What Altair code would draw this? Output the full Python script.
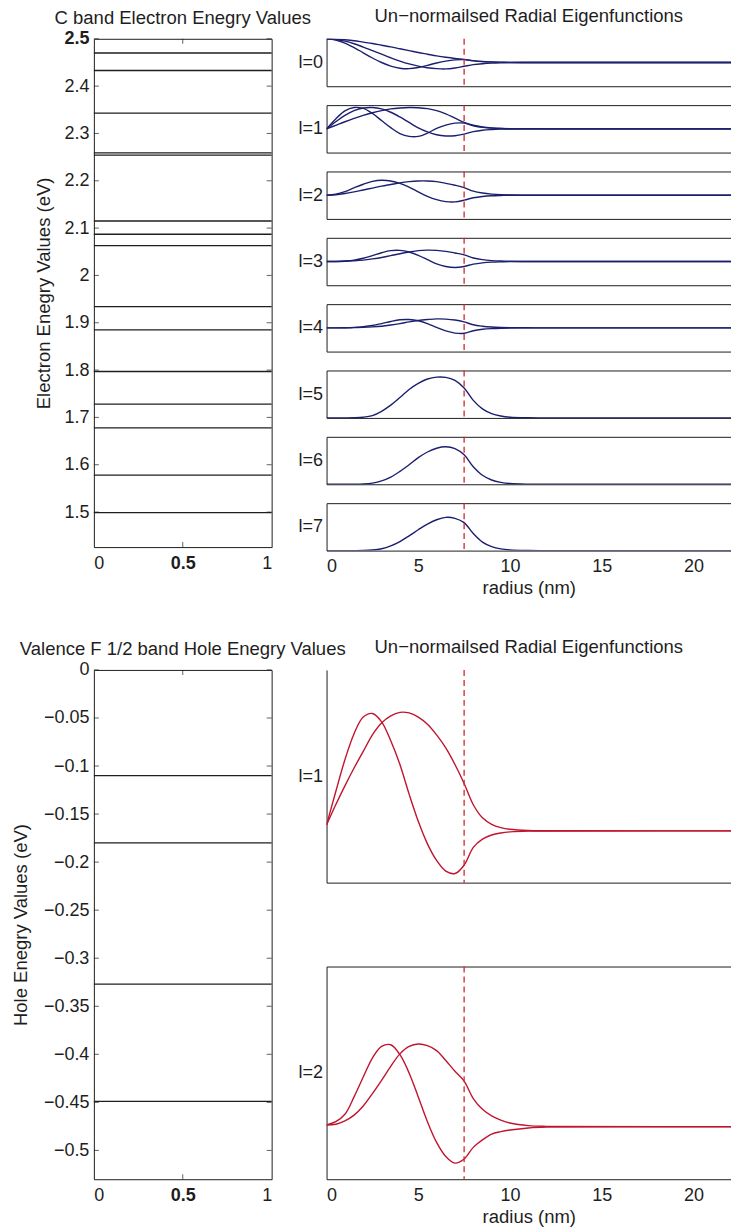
import altair as alt
import pandas as pd

FONT = "Liberation Sans"
INK = "#1e1e1e"
NAVY = "#1c1f6e"
CRIMSON = "#c0152f"
DASH_RED = "#d0282e"

# ---------------- energy levels (eV) ----------------
electron_levels = [2.470, 2.433, 2.343, 2.259, 2.254, 2.115, 2.087, 2.063,
                   1.934, 1.885, 1.797, 1.728, 1.678, 1.578, 1.499]
electron_axis_ticks = [1.5, 1.6, 1.7, 1.8, 1.9, 2.0, 2.1, 2.2, 2.3, 2.4, 2.5]
electron_energy_domain = [1.426, 2.5]

hole_levels = [-0.110, -0.180, -0.327, -0.449]
hole_axis_ticks = [0, -0.05, -0.1, -0.15, -0.2, -0.25, -0.3, -0.35, -0.4, -0.45, -0.5]
hole_energy_domain = [-0.53, 0]

level_x_ticks = [0, 0.5, 1]
level_x_domain = [0, 1]

# ---------------- radial eigenfunctions ----------------
radius_ticks = [0, 5, 10, 15, 20]
radius_domain = [0, 22.05]
well_radius = [7.5]

r_nm = [0, 0.5, 1, 1.5, 2, 2.5, 3, 3.5, 4, 4.5, 5, 5.5, 6, 6.5, 7, 7.5,
        8, 8.5, 9, 9.5, 10, 11, 12, 25]

# conduction band, l = 0 .. 7
e_l0_n1 = [1.0, 0.99, 0.96, 0.92, 0.86, 0.80, 0.73, 0.66, 0.58, 0.50, 0.42, 0.35,
           0.28, 0.22, 0.17, 0.13, 0.08, 0.045, 0.025, 0.012, 0.006, 0.001, 0, 0]
e_l0_n2 = [1.0, 0.97, 0.90, 0.79, 0.65, 0.50, 0.35, 0.20, 0.06, -0.06, -0.15, -0.22,
           -0.26, -0.27, -0.23, -0.16, -0.09, -0.05, -0.025, -0.012, -0.005, -0.001, 0, 0]
e_l0_n3 = [1.0, 0.95, 0.82, 0.63, 0.41, 0.19, 0.0, -0.15, -0.24, -0.26, -0.21, -0.12,
           -0.02, 0.06, 0.11, 0.12, 0.07, 0.035, 0.015, 0.006, 0.002, 0, 0, 0]

e_l1_n1 = [0, 0.15, 0.30, 0.44, 0.57, 0.68, 0.77, 0.84, 0.88, 0.90, 0.89, 0.85,
           0.77, 0.63, 0.45, 0.27, 0.15, 0.08, 0.04, 0.02, 0.01, 0.002, 0, 0]
e_l1_n2 = [0, 0.30, 0.57, 0.77, 0.88, 0.90, 0.84, 0.70, 0.50, 0.27, 0.04, -0.13,
           -0.25, -0.30, -0.29, -0.22, -0.12, -0.06, -0.03, -0.013, -0.005, -0.001, 0, 0]
e_l1_n3 = [0, 0.42, 0.76, 0.90, 0.86, 0.65, 0.35, 0.05, -0.20, -0.32, -0.32, -0.18,
           0.02, 0.16, 0.24, 0.24, 0.13, 0.06, 0.03, 0.012, 0.005, 0.001, 0, 0]

e_l2_n1 = [0, 0.02, 0.07, 0.14, 0.22, 0.30, 0.38, 0.45, 0.52, 0.57, 0.60, 0.60,
           0.57, 0.50, 0.42, 0.32, 0.17, 0.09, 0.045, 0.02, 0.01, 0.002, 0, 0]
e_l2_n2 = [0, 0.04, 0.15, 0.31, 0.46, 0.58, 0.63, 0.60, 0.50, 0.34, 0.14, -0.05,
           -0.19, -0.27, -0.28, -0.21, -0.11, -0.055, -0.025, -0.012, -0.005, -0.001, 0, 0]

e_l3_n1 = [0, 0.0, 0.01, 0.03, 0.06, 0.11, 0.17, 0.25, 0.33, 0.40, 0.46, 0.48,
           0.47, 0.43, 0.36, 0.28, 0.15, 0.08, 0.04, 0.02, 0.01, 0.002, 0, 0]
e_l3_n2 = [0, 0.0, 0.02, 0.06, 0.14, 0.25, 0.37, 0.46, 0.47, 0.40, 0.26, 0.08,
           -0.10, -0.21, -0.25, -0.21, -0.11, -0.055, -0.025, -0.012, -0.005, -0.001, 0, 0]

e_l4_n1 = [0, 0, 0, 0.01, 0.02, 0.04, 0.07, 0.12, 0.18, 0.25, 0.31, 0.35,
           0.38, 0.37, 0.33, 0.25, 0.13, 0.07, 0.035, 0.017, 0.008, 0.002, 0, 0]
e_l4_n2 = [0, 0, 0.005, 0.02, 0.05, 0.10, 0.18, 0.27, 0.34, 0.35, 0.30, 0.18,
           0.02, -0.13, -0.22, -0.23, -0.12, -0.06, -0.03, -0.014, -0.006, -0.001, 0, 0]

e_l5_n1 = [0, 0, 0, 0.003, 0.015, 0.05, 0.14, 0.27, 0.43, 0.60, 0.73, 0.82,
           0.86, 0.855, 0.79, 0.63, 0.37, 0.19, 0.09, 0.04, 0.015, 0.002, 0, 0]
e_l6_n1 = [0, 0, 0, 0, 0.005, 0.025, 0.07, 0.15, 0.27, 0.41, 0.56, 0.68,
           0.76, 0.79, 0.75, 0.62, 0.37, 0.19, 0.09, 0.04, 0.015, 0.002, 0, 0]
e_l7_n1 = [0, 0, 0, 0, 0.002, 0.012, 0.04, 0.10, 0.19, 0.31, 0.44, 0.56,
           0.65, 0.70, 0.68, 0.59, 0.36, 0.18, 0.085, 0.035, 0.013, 0.002, 0, 0]

# valence band (holes), l = 1, 2
h_l1_n1 = [0.05, 0.22, 0.38, 0.53, 0.67, 0.81, 0.91, 0.97, 1.0, 0.995, 0.96, 0.90,
           0.81, 0.70, 0.56, 0.40, 0.22, 0.11, 0.055, 0.027, 0.013, 0.003, 0.001, 0]
h_l1_n2 = [0.05, 0.33, 0.60, 0.82, 0.96, 0.99, 0.92, 0.76, 0.56, 0.31, 0.08, -0.11,
           -0.25, -0.34, -0.36, -0.29, -0.14, -0.07, -0.035, -0.018, -0.009, -0.002, -0.001, 0]
h_l2_n1 = [0.02, 0.03, 0.07, 0.14, 0.25, 0.40, 0.56, 0.73, 0.88, 0.97, 1.0, 0.98,
           0.92, 0.80, 0.67, 0.55, 0.34, 0.21, 0.13, 0.08, 0.045, 0.013, 0.004, 0]
h_l2_n2 = [0.02, 0.06, 0.15, 0.36, 0.60, 0.83, 0.97, 0.99, 0.87, 0.65, 0.36, 0.06,
           -0.19, -0.36, -0.44, -0.39, -0.25, -0.16, -0.09, -0.06, -0.04, -0.015, -0.005, 0]

electron_panels = [
    ("l=0", {"n1": e_l0_n1, "n2": e_l0_n2, "n3": e_l0_n3}, [-1, 1], False),
    ("l=1", {"n1": e_l1_n1, "n2": e_l1_n2, "n3": e_l1_n3}, [-1, 1], True),
    ("l=2", {"n1": e_l2_n1, "n2": e_l2_n2}, [-1, 1], True),
    ("l=3", {"n1": e_l3_n1, "n2": e_l3_n2}, [-1, 1], True),
    ("l=4", {"n1": e_l4_n1, "n2": e_l4_n2}, [-1, 1], True),
    ("l=5", {"n1": e_l5_n1}, [0, 1], True),
    ("l=6", {"n1": e_l6_n1}, [0, 1], True),
    ("l=7", {"n1": e_l7_n1}, [0, 1], True),
]
hole_panels = [
    ("l=1", {"n1": h_l1_n1, "n2": h_l1_n2}, [-0.437, 1.358], False),
    ("l=2", {"n1": h_l2_n1, "n2": h_l2_n2}, [-0.635, 1.936], True),
]

LEVEL_W = 178
RADIAL_W = 405


def bold_at(v):
    return alt.condition(f"datum.value == {v}", alt.value("bold"), alt.value("normal"))


def level_panel(levels, ticks, domain, ytitle, title, height, title_pad, bold_y=None):
    xscale = alt.Scale(domain=level_x_domain, nice=False, zero=False)
    yscale = alt.Scale(domain=domain, nice=False, zero=False)
    df = pd.DataFrame({"E": levels, "x0": level_x_domain[0], "x1": level_x_domain[1]})
    yaxis_kw = dict(values=ticks, format="~g", title=ytitle, ticks=False, domain=False,
                    labelPadding=5, titlePadding=title_pad)
    if bold_y is not None:
        yaxis_kw["labelFontWeight"] = bold_at(bold_y)
    rules = alt.Chart(df).mark_rule(color=INK, strokeWidth=1.3).encode(
        x=alt.X("x0:Q", scale=xscale,
                axis=alt.Axis(values=level_x_ticks, format="~g", title=None, ticks=False,
                              domain=False, labelPadding=7,
                              labelFontWeight=bold_at(0.5))),
        x2="x1:Q",
        y=alt.Y("E:Q", scale=yscale, axis=alt.Axis(**yaxis_kw)),
    )
    # small inward tick marks on the frame (MATLAB style)
    tdf = pd.DataFrame({"E": ticks, "left": level_x_domain[0], "right": level_x_domain[1]})
    lt = alt.Chart(tdf).mark_tick(orient="horizontal", size=5, thickness=1, color=INK,
                                  xOffset=2.5).encode(
        x=alt.X("left:Q", scale=xscale), y=alt.Y("E:Q", scale=yscale))
    rt = alt.Chart(tdf).mark_tick(orient="horizontal", size=5, thickness=1, color=INK,
                                  xOffset=-2.5).encode(
        x=alt.X("right:Q", scale=xscale), y=alt.Y("E:Q", scale=yscale))
    xdf = pd.DataFrame({"x": level_x_ticks[1:2], "lo": domain[0], "hi": domain[1]})
    bt = alt.Chart(xdf).mark_tick(orient="vertical", size=5, thickness=1, color=INK,
                                  yOffset=-2.5).encode(
        x=alt.X("x:Q", scale=xscale), y=alt.Y("lo:Q", scale=yscale))
    tt = alt.Chart(xdf).mark_tick(orient="vertical", size=5, thickness=1, color=INK,
                                  yOffset=2.5).encode(
        x=alt.X("x:Q", scale=xscale), y=alt.Y("hi:Q", scale=yscale))
    return alt.layer(rules, lt, rt, bt, tt).properties(
        width=LEVEL_W, height=height,
        title=alt.TitleParams(title, anchor="middle", frame="group", baseline="alphabetic",
                              offset=-13),
        view=alt.ViewBackground(stroke=INK, strokeWidth=1),
    )


def radial_panel(label, curves, ydomain, top_line, color, height, bottom_labels=False,
                 title=None):
    rows = []
    for name, vals in curves.items():
        for r, v in zip(r_nm, vals):
            rows.append({"r": r, "psi": v, "state": name})
    df = pd.DataFrame(rows)
    mid = (ydomain[0] + ydomain[1]) / 2
    xscale = alt.Scale(domain=radius_domain, nice=False, zero=False)
    if bottom_labels:
        xaxis = alt.Axis(values=radius_ticks, format="~g", title="radius (nm)", ticks=False,
                         labelPadding=7, titlePadding=3)
    else:
        xaxis = alt.Axis(labels=False, ticks=False, title=None)
    lines = alt.Chart(df).mark_line(interpolate="catmull-rom", clip=True, color=color,
                                    strokeWidth=1.4).encode(
        x=alt.X("r:Q", scale=xscale, axis=xaxis),
        y=alt.Y("psi:Q", scale=alt.Scale(domain=ydomain, nice=False, zero=False),
                axis=alt.Axis(values=[mid], labelExpr=f"'{label}'", ticks=False,
                              labelPadding=4, title=None)),
        detail="state:N",
    )
    top_axis = (alt.Axis(orient="top", labels=False, ticks=False, title=None)
                if top_line else None)
    well = alt.Chart(pd.DataFrame({"r": well_radius})).mark_rule(
        color=DASH_RED, strokeDash=[6, 4], strokeWidth=1.3).encode(
        x=alt.X("r:Q", scale=xscale, axis=top_axis))
    layer = alt.layer(lines, well).resolve_axis(x="independent")
    props = dict(width=RADIAL_W, height=height)
    if title is not None:
        props["title"] = alt.TitleParams(title, anchor="middle", frame="group",
                                         baseline="alphabetic", offset=-2.5)
    return layer.properties(**props)


RADIAL_TITLE = "Un\u2212normailsed Radial Eigenfunctions"

e_cells = []
for i, (lab, curves, dom, top) in enumerate(electron_panels):
    e_cells.append(radial_panel(lab, curves, dom, top, NAVY, 47.5,
                                bottom_labels=(i == len(electron_panels) - 1),
                                title=RADIAL_TITLE if i == 0 else None))
electron_col = alt.vconcat(*e_cells, spacing=18.43, bounds="flush")

h_cells = []
for i, (lab, curves, dom, top) in enumerate(hole_panels):
    h_cells.append(radial_panel(lab, curves, dom, top, CRIMSON, 213,
                                bottom_labels=(i == len(hole_panels) - 1),
                                title=RADIAL_TITLE if i == 0 else None))
hole_col = alt.vconcat(*h_cells, spacing=84, bounds="flush")

electron_levels_chart = level_panel(electron_levels, electron_axis_ticks, electron_energy_domain,
                                    "Electron Enegry Values (eV)",
                                    "C band Electron Enegry Values", 509, 10, bold_y=2.5)
hole_levels_chart = level_panel(hole_levels, hole_axis_ticks, hole_energy_domain,
                                "Hole Enegry Values (eV)",
                                "Valence F 1/2 band Hole Enegry Values", 510, 13)

chart = alt.concat(
    electron_levels_chart, electron_col, hole_levels_chart, hole_col,
    columns=2, spacing=alt.RowColnumber(row=123, column=55), bounds="flush",
).properties(
    padding={"left": 10, "top": 6, "right": 0, "bottom": 0},
    background="white",
).configure_view(stroke=None).configure_axis(
    labelFont=FONT, titleFont=FONT, labelFontSize=18, titleFontSize=18.5,
    labelColor=INK, titleColor=INK, titleFontWeight="normal", domainColor=INK,
    domainWidth=1, grid=False,
).configure_title(font=FONT, fontSize=18.5, fontWeight="normal", color=INK)

chart.save("out.html", embed_options={"renderer": "svg", "actions": False})
